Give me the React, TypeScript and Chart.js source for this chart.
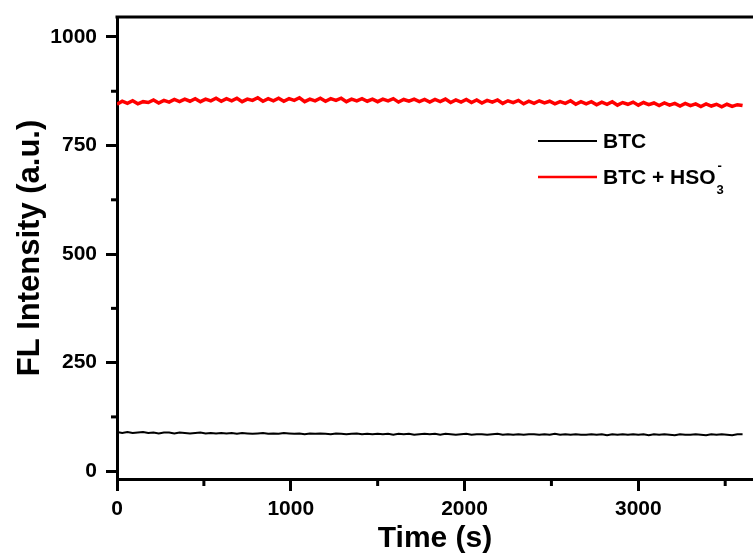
import React, { useEffect, useRef } from "react";
import { Chart, registerables } from "chart.js";

Chart.register(...registerables);

const sampleStep = 30; // seconds between samples

const redSeries = [
  845, 852, 847, 853, 846, 851, 849, 855, 848, 854,
  850, 856, 851, 857, 852, 858, 851, 857, 853, 859,
  852, 858, 853, 859, 851, 857, 854, 860, 852, 858,
  853, 859, 852, 858, 854, 860, 851, 857, 853, 859,
  852, 858, 854, 859, 851, 857, 853, 858, 852, 857,
  851, 857, 853, 858, 850, 856, 852, 857, 851, 856,
  850, 856, 851, 857, 849, 855, 850, 856, 849, 855,
  848, 854, 850, 855, 847, 853, 849, 854, 846, 852,
  847, 853, 848, 852, 846, 851, 847, 853, 845, 851,
  846, 851, 844, 850, 845, 851, 843, 849, 845, 850,
  843, 849, 844, 848, 842, 848, 843, 847, 841, 847,
  842, 846, 840, 846, 841, 845, 839, 845, 840, 844,
  842,
];

const blackSeries = [
  90, 88, 90, 88, 89, 90, 88, 89, 87, 89,
  89, 87, 89, 88, 87, 88, 89, 87, 88, 87,
  88, 87, 88, 86, 88, 87, 86, 87, 88, 86,
  87, 86, 88, 87, 86, 87, 85, 87, 86, 87,
  86, 85, 87, 86, 85, 86, 87, 85, 86, 85,
  86, 85, 86, 84, 86, 85, 86, 84, 85, 86,
  85, 86, 84, 86, 85, 84, 85, 86, 84, 85,
  85, 84, 85, 86, 84, 85, 84, 85, 84, 85,
  85, 84, 85, 84, 86, 84, 85, 84, 85, 84,
  84, 85, 84, 85, 83, 85, 84, 85, 84, 85,
  84, 85, 83, 85, 84, 85, 84, 83, 85, 84,
  84, 85, 84, 83, 85, 84, 85, 84, 83, 85,
  85,
];

const xMajorTicks = [0, 1000, 2000, 3000];
const xMinorTicks = [500, 1500, 2500, 3500];
const yMajorTicks = [0, 250, 500, 750, 1000];
const yMinorTicks = [125, 375, 625, 875];

const seriesNames = ["BTC", "BTC + HSO"];
const seriesColors = ["#000000", "#ff0000"];

const FONT = "'Liberation Sans', Arial, Helvetica, sans-serif";

const toPoints = (vals: number[]) => vals.map((v, i) => ({ x: i * sampleStep, y: v }));

const decorPlugin = {
  id: "decor",
  afterDraw(chart: any) {
    const { ctx, chartArea, scales } = chart;
    const xs = scales.x;
    const ys = scales.y;
    ctx.save();
    ctx.strokeStyle = "#000";
    ctx.lineWidth = 3;
    // top border
    ctx.beginPath();
    ctx.moveTo(chartArea.left - 1.5, chartArea.top);
    ctx.lineTo(chartArea.right, chartArea.top);
    ctx.stroke();
    // minor ticks
    yMinorTicks.forEach((v) => {
      const p = ys.getPixelForValue(v);
      ctx.beginPath();
      ctx.moveTo(chartArea.left - 6, p);
      ctx.lineTo(chartArea.left, p);
      ctx.stroke();
    });
    xMinorTicks.forEach((v) => {
      const p = xs.getPixelForValue(v);
      ctx.beginPath();
      ctx.moveTo(p, chartArea.bottom);
      ctx.lineTo(p, chartArea.bottom + 7);
      ctx.stroke();
    });
    // legend
    const lx0 = 538;
    const lx1 = 597;
    const rows = [141, 177];
    seriesNames.forEach((name, i) => {
      const y = rows[i];
      ctx.strokeStyle = seriesColors[i];
      ctx.lineWidth = i === 0 ? 2 : 2.5;
      ctx.beginPath();
      ctx.moveTo(lx0, y);
      ctx.lineTo(lx1, y);
      ctx.stroke();
      ctx.fillStyle = "#000";
      ctx.font = `bold 21px ${FONT}`;
      ctx.textBaseline = "middle";
      ctx.textAlign = "left";
      ctx.fillText(name, 603, y + 1);
      if (i === 1) {
        const w = ctx.measureText(name).width;
        ctx.font = `bold 13px ${FONT}`;
        ctx.fillText("3", 603 + w + 1, y + 13);
        ctx.fillText("-", 603 + w + 2, y - 11);
      }
    });
    ctx.restore();
  },
};

export default function App() {
  const ref = useRef<HTMLCanvasElement>(null);
  useEffect(() => {
    if (!ref.current) return;
    const chart = new Chart(ref.current, {
      type: "line",
      data: {
        datasets: [
          {
            label: seriesNames[0],
            data: toPoints(blackSeries),
            borderColor: seriesColors[0],
            borderWidth: 2,
            pointRadius: 0,
            tension: 0,
          },
          {
            label: seriesNames[1],
            data: toPoints(redSeries),
            borderColor: seriesColors[1],
            borderWidth: 3.5,
            pointRadius: 0,
            tension: 0,
          },
        ],
      },
      options: {
        responsive: false,
        animation: false,
        layout: { padding: { top: 17, left: 0, right: 0, bottom: 0 } },
        plugins: { legend: { display: false }, tooltip: { enabled: false } },
        scales: {
          x: {
            type: "linear",
            min: 0,
            max: 3660,
            afterFit: (s: any) => {
              s.height = 78;
              s.paddingLeft = 0;
              s.paddingRight = 0;
            },
            afterBuildTicks: (s: any) => {
              s.ticks = xMajorTicks.map((v) => ({ value: v }));
            },
            grid: {
              drawOnChartArea: false,
              tickLength: 12,
              tickWidth: 3,
              tickColor: "#000",
            },
            border: { display: true, width: 3, color: "#000" },
            ticks: {
              padding: 6,
              color: "#000",
              maxRotation: 0,
              callback: (v: any) => String(v),
              font: { family: FONT, size: 21, weight: "bold" },
            },
            title: {
              display: true,
              text: "Time (s)",
              color: "#000",
              padding: { top: 0, bottom: 0 },
              font: { family: FONT, size: 30, weight: "bold" },
            },
          },
          y: {
            type: "linear",
            min: -18,
            max: 1046,
            afterFit: (s: any) => {
              s.width = 117;
              s.paddingTop = 0;
              s.paddingBottom = 0;
            },
            afterBuildTicks: (s: any) => {
              s.ticks = yMajorTicks.map((v) => ({ value: v }));
            },
            grid: {
              drawOnChartArea: false,
              tickLength: 11,
              tickWidth: 3,
              tickColor: "#000",
            },
            border: { display: true, width: 3, color: "#000" },
            ticks: {
              padding: 9,
              color: "#000",
              callback: (v: any) => String(v),
              font: { family: FONT, size: 21, weight: "bold" },
            },
            title: {
              display: true,
              text: "FL Intensity (a.u.)",
              color: "#000",
              padding: { top: 12, bottom: 0 },
              font: { family: FONT, size: 31, weight: "bold" },
            },
          },
        },
      },
      plugins: [decorPlugin],
    } as any);
    return () => chart.destroy();
  }, []);
  return (
    <canvas
      ref={ref}
      width={753}
      height={557}
      style={{ position: "absolute", left: 0, top: 0, display: "block", background: "#fff" }}
    />
  );
}
